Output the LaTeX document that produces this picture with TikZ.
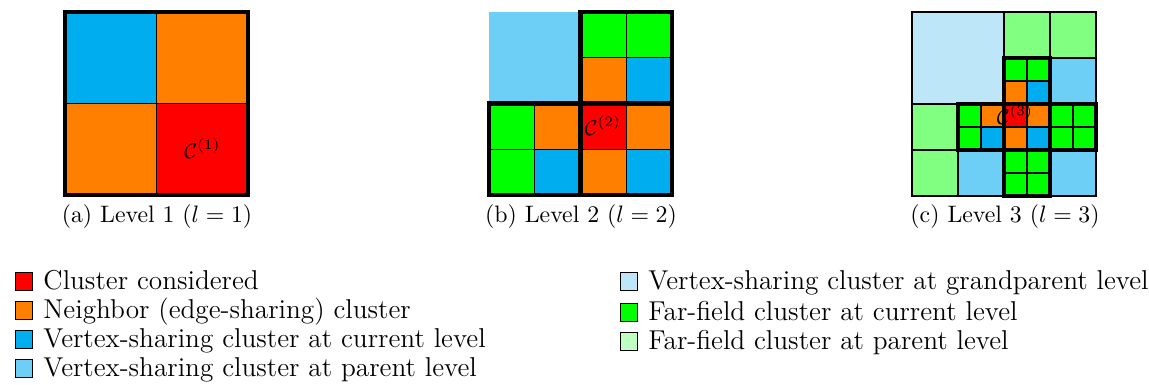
\documentclass[tikz,border=0pt]{standalone}
\usepackage{amsmath}
\definecolor{cred}{HTML}{FF0000}
\definecolor{corange}{HTML}{FF8000}
\definecolor{cblue}{HTML}{00ADEE}
\definecolor{pblue}{HTML}{6DCFF6}
\definecolor{gblue}{HTML}{BDE6F8}
\definecolor{cgreen}{HTML}{00FF00}
\definecolor{lgreen}{HTML}{80FF80}
\definecolor{legreen}{HTML}{C0FFC0}
\begin{document}
\begin{tikzpicture}[x=0.42pt,y=-0.42pt,
  cell/.style={draw=black,line width=0.45pt},
  thickb/.style={draw=black,line width=1.75pt},
  swatch/.style={draw=black,line width=0.45pt,minimum size=7.4pt,inner sep=0pt,outer sep=0pt},
  legtext/.style={anchor=base west,inner sep=0pt,font=\fontsize{11.45}{14}\selectfont},
  caption/.style={inner sep=0pt,font=\normalsize},
  clabel/.style={inner sep=0pt,font=\small}]
\useasboundingbox (0,0) rectangle (1149,384);

% ---------- panel (a) ----------
\begin{scope}[shift={(65,12)},scale=91.5]
  \foreach \c/\r/\col in {0/0/cblue,1/0/corange,0/1/corange,1/1/cred}
    \filldraw[cell,fill=\col] (\c,\r) rectangle ++(1,1);
  \draw[thickb] (0,0) rectangle (2,2);
\end{scope}
\node[clabel] (la) at (202.5,149) {$\mathcal{C}^{(1)}$};
\node[caption] (capa) at (157,217) {(a) Level 1 ($l=1$)};

% ---------- panel (b) ----------
\begin{scope}[shift={(489,12)},scale=45.75]
  \fill[pblue] (0,0) rectangle (2,2);
  \foreach \c/\r/\col in {2/0/cgreen,3/0/cgreen,2/1/corange,3/1/cblue,
                          0/2/cgreen,1/2/corange,2/2/cred,3/2/corange,
                          0/3/cgreen,1/3/cblue,2/3/corange,3/3/cblue}
    \filldraw[cell,fill=\col] (\c,\r) rectangle ++(1,1);
  \draw[thickb] (2,0) rectangle (4,2);
  \draw[thickb] (0,2) rectangle (2,4);
  \draw[thickb] (2,2) rectangle (4,4);
\end{scope}
\node[clabel] (lb) at (603,126) {$\mathcal{C}^{(2)}$};
\node[caption] (capb) at (581,217) {(b) Level 2 ($l=2$)};

% ---------- panel (c) ----------
\begin{scope}[shift={(912,12)},scale=23]
  \filldraw[cell,fill=gblue] (0,0) rectangle (4,4);
  \foreach \c/\r in {4/0,6/0,0/4,0/6}
    \filldraw[cell,fill=lgreen] (\c,\r) rectangle ++(2,2);
  \foreach \c/\r in {6/2,2/6,6/6}
    \filldraw[cell,fill=pblue] (\c,\r) rectangle ++(2,2);
  \foreach \c/\r/\col in {4/2/cgreen,5/2/cgreen,4/3/corange,5/3/cblue,
                          2/4/cgreen,3/4/corange,2/5/cgreen,3/5/cblue,
                          4/4/cred,5/4/corange,4/5/corange,5/5/cblue,
                          6/4/cgreen,7/4/cgreen,6/5/cgreen,7/5/cgreen,
                          4/6/cgreen,5/6/cgreen,4/7/cgreen,5/7/cgreen}
    \filldraw[cell,fill=\col] (\c,\r) rectangle ++(1,1);
  \foreach \c/\r in {4/2,2/4,4/4,6/4,4/6}
    \draw[thickb] (\c,\r) rectangle ++(2,2);
\end{scope}
\node[clabel] (lc) at (1015,115) {$\mathcal{C}^{(3)}$};
\node[caption] (capc) at (1005,217) {(c) Level 3 ($l=3$)};

% ---------- legend ----------
\node[swatch,fill=cred]    (s1) at (24,281.5) {};
\node[legtext] (t1) at (43,289.5) {Cluster considered};
\node[swatch,fill=corange] (s2) at (24,310.5) {};
\node[legtext] (t2) at (43,318.5) {Neighbor (edge-sharing) cluster};
\node[swatch,fill=cblue]   (s3) at (24,339.5) {};
\node[legtext] (t3) at (43,347.5) {Vertex-sharing cluster at current level};
\node[swatch,fill=pblue]   (s4) at (24,368.5) {};
\node[legtext] (t4) at (43,376.5) {Vertex-sharing cluster at parent level};

\node[swatch,fill=gblue]   (s5) at (629,281.5) {};
\node[legtext] (t5) at (648,289.5) {Vertex-sharing cluster at grandparent level};
\node[swatch,fill=cgreen]  (s6) at (629,312.5) {};
\node[legtext] (t6) at (648,320.5) {Far-field cluster at current level};
\node[swatch,fill=legreen] (s7) at (629,341.5) {};
\node[legtext] (t7) at (648,349.5) {Far-field cluster at parent level};
\end{tikzpicture}
\end{document}
